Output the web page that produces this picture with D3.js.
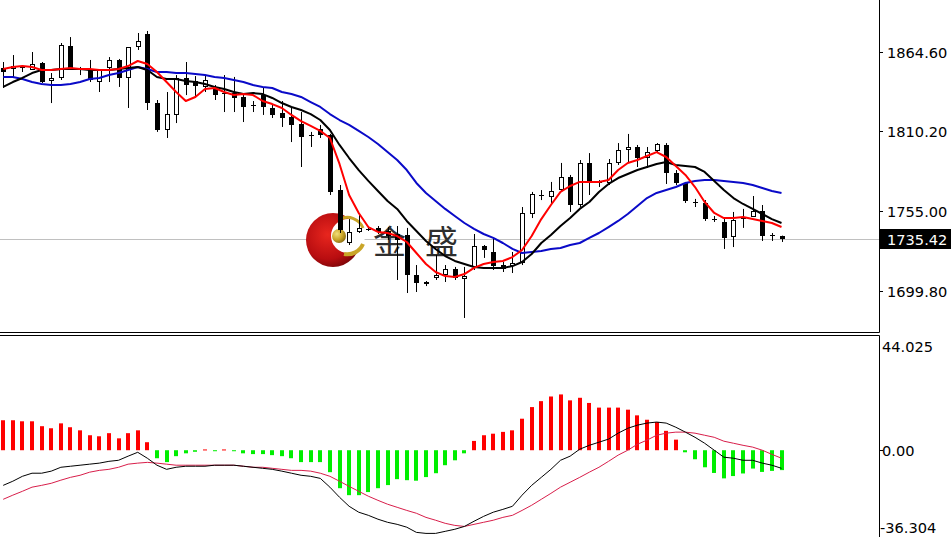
<!DOCTYPE html>
<html><head><meta charset="utf-8">
<script src="https://cdn.jsdelivr.net/npm/d3@7"></script>
<style>html,body{margin:0;padding:0;background:#fff;overflow:hidden}svg{display:block}</style>
</head><body>
<svg id="c" width="951" height="537"></svg>
<script>
// ---------- data ----------
const opens = [1853.6,1852.9,1853.6,1852.2,1857.0,1844.6,1846.7,1868.7,1852.9,1852.2,
 1843.9,1853.6,1859.1,1846.7,1868.0,1877.0,1829.4,1810.8,1821.2,1846.7,
 1844.6,1840.5,1839.8,1836.3,1836.3,1833.6,1828.1,1834.9,1826.0,1822.5,
 1819.8,1814.9,1807.4,1811.5,1807.4,1769.4,1732.9,1740.5,1742.6,1743.3,
 1741.2,1739.1,1738.4,1710.8,1704.6,1708.8,1710.8,1715.0,1708.1,1716.4,
 1730.8,1726.7,1717.7,1717.0,1719.1,1752.9,1765.3,1764.6,1769.4,1778.4,
 1759.1,1788.1,1775.0,1774.3,1788.1,1797.0,1799.1,1791.5,1796.3,1800.5,
 1781.2,1774.3,1761.2,1760.5,1749.4,1747.4,1737.0,1749.4,1750.8,1755.0,
 1738.4,1737.7];
const highs = [1857.7,1862.5,1855.6,1864.6,1857.7,1850.1,1870.8,1874.9,1854.3,1859.1,
 1852.2,1861.1,1859.8,1868.0,1877.7,1879.1,1831.5,1837.0,1848.7,1857.7,
 1848.0,1848.7,1841.8,1848.7,1847.4,1836.3,1830.8,1839.8,1828.1,1830.8,
 1826.0,1823.2,1809.5,1814.3,1808.1,1772.9,1749.4,1753.6,1743.3,1744.6,
 1743.9,1744.6,1743.3,1717.7,1706.7,1724.6,1717.7,1716.4,1716.4,1739.1,
 1731.5,1736.4,1719.8,1726.7,1757.7,1768.1,1769.4,1775.0,1788.1,1779.8,
 1790.1,1794.9,1776.3,1790.8,1801.8,1808.1,1800.5,1799.1,1801.8,1801.8,
 1783.2,1775.0,1763.3,1762.5,1751.5,1749.4,1754.3,1756.4,1765.3,1759.1,
 1739.8,1738.0];
const lows = [1839.8,1846.7,1850.8,1852.2,1843.2,1829.4,1845.3,1852.2,1848.7,1843.9,
 1837.0,1843.9,1840.5,1826.0,1866.0,1824.6,1809.5,1805.3,1815.6,1834.9,
 1834.3,1837.0,1831.5,1823.2,1823.2,1816.3,1823.2,1821.2,1819.1,1812.9,
 1802.5,1785.3,1799.1,1805.3,1766.0,1739.8,1731.5,1739.8,1741.2,1739.1,
 1735.0,1707.4,1698.4,1699.1,1703.2,1707.4,1706.0,1707.4,1681.2,1714.3,
 1722.6,1714.3,1712.9,1712.2,1717.7,1750.1,1762.5,1759.1,1768.1,1754.3,
 1757.7,1766.0,1771.5,1772.9,1786.7,1788.7,1785.3,1784.6,1795.6,1773.6,
 1772.9,1760.5,1757.7,1748.1,1747.4,1728.8,1730.1,1743.3,1750.8,1734.3,
 1734.3,1733.6];
const closes = [1850.8,1854.9,1854.3,1856.3,1843.9,1846.7,1869.4,1853.6,1852.2,1845.3,
 1852.2,1859.1,1846.7,1868.0,1872.2,1829.4,1810.8,1821.8,1846.7,1841.8,
 1841.2,1845.3,1834.9,1835.6,1832.9,1826.7,1827.4,1826.7,1821.2,1819.1,
 1814.3,1806.0,1807.0,1807.4,1768.1,1741.9,1740.5,1743.3,1741.9,1740.5,
 1737.7,1735.0,1710.8,1705.3,1706.0,1710.8,1715.0,1708.8,1710.1,1730.8,
 1728.1,1717.0,1715.0,1719.1,1753.6,1766.7,1766.0,1768.8,1778.4,1759.1,
 1788.1,1775.0,1774.3,1788.1,1797.0,1799.1,1791.5,1795.6,1801.2,1781.2,
 1774.3,1761.9,1760.9,1749.4,1749.0,1736.4,1748.8,1750.8,1755.0,1737.7,
 1737.7,1735.42];

const maFast = [1852.9,1854.3,1854.9,1854.3,1852.2,1852.2,1852.9,1853.6,1852.9,1852.9,
 1852.2,1852.2,1852.9,1854.9,1858.4,1856.3,1850.8,1843.9,1837.0,1830.8,
 1833.6,1839.1,1839.8,1837.0,1834.9,1835.6,1834.9,1830.8,1828.7,1826.0,
 1821.2,1817.0,1813.6,1810.2,1805.3,1787.4,1766.0,1753.6,1743.9,1740.5,
 1739.8,1737.7,1733.6,1726.0,1718.4,1712.9,1710.1,1709.5,1711.5,1715.7,
 1718.4,1719.8,1720.5,1723.2,1728.1,1737.7,1749.4,1759.1,1768.1,1772.2,
 1775.0,1775.0,1775.0,1776.3,1783.2,1788.1,1790.1,1792.9,1795.6,1792.2,
 1786.0,1779.8,1771.5,1761.2,1753.6,1750.1,1750.1,1750.8,1749.4,1748.1,
 1746.7,1743.9];
const maMid = [1840.5,1843.9,1846.7,1850.1,1852.2,1852.2,1852.9,1852.9,1852.9,1852.2,
 1852.2,1852.2,1852.9,1853.6,1854.3,1852.2,1847.4,1846.0,1846.0,1844.6,
 1843.9,1842.5,1840.5,1839.1,1837.0,1835.6,1836.3,1835.6,1832.9,1829.4,
 1826.7,1824.6,1821.8,1817.7,1810.8,1800.5,1791.5,1783.2,1775.7,1768.8,
 1761.9,1756.4,1748.1,1741.2,1734.3,1728.8,1723.9,1720.5,1718.4,1716.4,
 1715.7,1715.7,1715.7,1717.0,1719.8,1725.3,1732.9,1738.4,1744.6,1750.1,
 1756.4,1761.2,1768.1,1773.6,1777.7,1780.5,1783.2,1785.3,1787.4,1788.7,
 1786.7,1786.0,1785.3,1781.9,1775.7,1769.4,1763.9,1759.8,1756.4,1752.9,
 1749.4,1746.7];
const maSlow = [1847.4,1847.4,1846.0,1843.9,1842.5,1841.8,1841.8,1842.5,1843.9,1846.0,
 1846.7,1848.7,1850.1,1852.2,1854.3,1852.9,1850.8,1850.8,1850.1,1850.1,
 1849.4,1848.7,1847.4,1846.7,1845.3,1843.9,1841.8,1840.5,1839.8,1837.0,
 1835.6,1833.6,1830.1,1826.7,1821.8,1817.7,1814.3,1810.2,1806.0,1801.2,
 1795.6,1790.1,1783.2,1774.3,1767.4,1761.9,1756.4,1751.5,1746.7,1742.6,
 1739.1,1736.4,1732.9,1728.8,1726.0,1726.7,1727.4,1728.8,1729.5,1731.5,
 1732.9,1736.4,1739.8,1743.9,1748.1,1752.9,1758.4,1763.9,1767.4,1769.4,
 1771.5,1774.3,1775.7,1776.3,1776.3,1775.7,1775.0,1774.3,1772.9,1770.8,
 1768.8,1767.4];

const macdHist = [11.6,11.6,11.2,11.2,9.3,8.5,10.4,8.9,7.7,5.8,
 5.4,6.6,4.6,6.6,7.7,3.1,-3.1,-4.6,-2.3,-1.2,
 -0.6,0.3,-0.2,0.3,-0.3,-1.2,-1.5,-1.5,-1.9,-2.3,
 -3.1,-4.6,-4.6,-4.6,-8.5,-14.7,-17.4,-17.4,-16.2,-14.7,
 -13.5,-11.2,-11.6,-11.8,-10.4,-8.9,-5.8,-3.9,-1.2,3.6,
 5.8,6.4,7.1,7.7,12.2,16.7,19.0,20.8,21.6,19.3,
 20.3,18.3,16.5,16.5,16.5,15.7,13.5,11.8,10.9,7.5,
 4.1,-0.8,-3.5,-6.6,-8.8,-10.9,-10.0,-9.0,-7.1,-8.4,
 -8.0,-7.7];
const macdLine = [-13.6,-12.0,-10.1,-8.9,-8.9,-8.1,-6.6,-6.2,-5.8,-5.4,
 -5.0,-4.3,-3.9,-2.3,-0.8,-3.1,-5.8,-7.4,-6.6,-6.2,
 -6.2,-6.2,-5.8,-5.8,-5.8,-6.2,-6.6,-7.0,-7.4,-8.1,
 -8.9,-9.7,-10.1,-10.9,-14.3,-18.2,-21.7,-24.0,-25.2,-26.7,
 -27.9,-28.7,-29.8,-31.8,-32.2,-32.2,-31.4,-30.6,-29.5,-27.5,
 -25.6,-24.0,-22.9,-21.7,-17.4,-13.6,-10.5,-7.4,-3.9,-2.3,
 0.4,1.9,3.1,4.3,6.6,8.5,9.7,10.5,10.9,10.5,
 8.9,7.0,5.0,2.7,0.0,-2.7,-3.1,-3.9,-3.9,-5.0,
 -5.8,-7.0];
const signalLine = [-19.0,-17.4,-15.9,-14.3,-13.6,-12.8,-11.6,-10.5,-9.7,-8.5,
 -7.8,-7.4,-6.6,-5.4,-5.0,-4.7,-5.0,-5.4,-5.8,-5.8,
 -5.8,-5.8,-5.8,-5.8,-5.8,-6.2,-6.6,-6.6,-7.0,-7.4,
 -7.8,-7.8,-8.1,-8.9,-10.1,-12.0,-14.0,-15.9,-17.8,-19.4,
 -20.9,-22.1,-23.3,-24.4,-26.0,-27.1,-28.3,-29.1,-29.5,-28.7,
 -27.9,-27.1,-26.0,-25.2,-23.3,-21.3,-19.0,-16.7,-14.3,-12.4,
 -10.5,-8.5,-6.6,-4.3,-1.9,0.0,2.3,3.9,5.8,6.6,
 7.0,7.0,6.6,5.8,5.0,3.5,2.7,1.9,1.2,0.0,
 -1.6,-3.1];

const priceTicks = [1864.60, 1810.20, 1755.00, 1699.80];
const lastPrice = 1735.42;
const macdMax = 44.025, macdMin = -36.304, macdZero = 0;
const watermark = ["金", "盛"];

// ---------- layout ----------
const svg = d3.select("#c");
const axisX = 879;
const mainBottom = 332, subTop = 336;
const n = closes.length;
const x = d3.scaleLinear().domain([0, n - 1]).range([3.2, 781.5]);
const y = d3.scaleLinear().domain([1699.8, 1864.6]).range([291, 52]);
const ym = d3.scaleLinear().domain([macdMin, macdMax]).range([544, 336.5]);
const px = i => Math.round(x(i)) + 0.5;

const defs = svg.append("defs");
defs.append("clipPath").attr("id","clipMain").append("rect").attr("x",0).attr("y",0).attr("width",axisX).attr("height",mainBottom);
defs.append("clipPath").attr("id","clipSub").append("rect").attr("x",0).attr("y",subTop).attr("width",axisX).attr("height",537-subTop);
const rg = defs.append("radialGradient").attr("id","redBall").attr("cx","40%").attr("cy","40%").attr("r","65%");
rg.append("stop").attr("offset","0%").attr("stop-color","#e8261e");
rg.append("stop").attr("offset","70%").attr("stop-color","#b80d10");
rg.append("stop").attr("offset","100%").attr("stop-color","#7a0508");
const gg = defs.append("radialGradient").attr("id","goldBall").attr("cx","35%").attr("cy","35%").attr("r","70%");
gg.append("stop").attr("offset","0%").attr("stop-color","#f3e07a");
gg.append("stop").attr("offset","60%").attr("stop-color","#c9a528");
gg.append("stop").attr("offset","100%").attr("stop-color","#8c6e12");

svg.append("rect").attr("width",951).attr("height",537).attr("fill","#fff");

// ---------- main panel ----------
const main = svg.append("g").attr("clip-path","url(#clipMain)");

// current price line
main.append("line").attr("x1",0).attr("x2",axisX).attr("y1",Math.round(y(lastPrice))+0.5).attr("y2",Math.round(y(lastPrice))+0.5)
  .attr("stroke","#c0c0c0").attr("stroke-width",1);

// watermark logo
const logo = main.append("g");
logo.append("circle").attr("cx",333).attr("cy",240).attr("r",27).attr("fill","url(#redBall)");
logo.append("circle").attr("cx",348).attr("cy",236).attr("r",17).attr("fill","#fff");
logo.append("path").attr("d","M340,219 A17,17 0 0 1 363,228").attr("fill","none").attr("stroke","#c9a528").attr("stroke-width",3);
logo.append("path").attr("d","M363,244 A17,17 0 0 1 344,254").attr("fill","none").attr("stroke","#c9a528").attr("stroke-width",4);
logo.append("circle").attr("cx",339).attr("cy",236).attr("r",7).attr("fill","url(#goldBall)");
logo.selectAll("text").data(watermark).enter().append("text")
  .attr("x",(d,i)=> i===0 ? 373 : 425).attr("y",254)
  .attr("font-family","'Noto Sans CJK SC','Noto Sans CJK JP',sans-serif").attr("font-size",33)
  .attr("fill","#2e2e2e").text(d=>d);

// candles
const cg = main.append("g");
const idx = d3.range(n);
cg.selectAll("line.wick").data(idx).enter().append("line")
  .attr("x1",i=>px(i)).attr("x2",i=>px(i))
  .attr("y1",i=>y(highs[i])).attr("y2",i=>y(lows[i]))
  .attr("stroke","#000").attr("stroke-width",1);
idx.forEach(i=>{
  const yo = y(opens[i]), yc = y(closes[i]);
  const top = Math.round(Math.min(yo,yc)), bot = Math.round(Math.max(yo,yc));
  const cx = px(i);
  if (bot - top < 2) {
    cg.append("line").attr("x1",cx-2.5).attr("x2",cx+2.5).attr("y1",top+0.5).attr("y2",top+0.5).attr("stroke","#000");
  } else if (closes[i] >= opens[i]) {
    cg.append("rect").attr("x",cx-2).attr("y",top+0.5).attr("width",4).attr("height",bot-top-1)
      .attr("fill","#fff").attr("stroke","#000").attr("stroke-width",1);
  } else {
    cg.append("rect").attr("x",cx-2.5).attr("y",top).attr("width",5).attr("height",bot-top).attr("fill","#000");
  }
});

// moving averages
const lineP = d3.line().x((d,i)=>x(i)).y(d=>y(d));
[[maSlow,"#0a0ac8"],[maMid,"#000000"],[maFast,"#ff0000"]].forEach(([arr,col])=>{
  main.append("path").attr("d",lineP(arr)).attr("fill","none").attr("stroke",col)
    .attr("stroke-width",2).attr("stroke-linejoin","round");
});

// ---------- MACD panel ----------
const sub = svg.append("g").attr("clip-path","url(#clipSub)");
const z = ym(macdZero);
sub.selectAll("rect.h").data(idx).enter().append("rect")
  .attr("x",i=>Math.round(x(i))-2).attr("width",4)
  .attr("y",i=>Math.min(z, ym(macdHist[i]))).attr("height",i=>Math.max(1, Math.abs(ym(macdHist[i]) - z)))
  .attr("fill",i=>macdHist[i] >= 0 ? "#ff0000" : "#00ee00");
const lineM = d3.line().x((d,i)=>x(i)).y(d=>ym(d));
sub.append("path").attr("d",lineM(signalLine)).attr("fill","none").attr("stroke","#d81e4a").attr("stroke-width",1);
sub.append("path").attr("d",lineM(macdLine)).attr("fill","none").attr("stroke","#000").attr("stroke-width",1);

// ---------- frames & axes ----------
const frame = svg.append("g").attr("stroke","#000").attr("stroke-width",1);
frame.append("line").attr("x1",0).attr("x2",axisX+0.5).attr("y1",mainBottom+0.5).attr("y2",mainBottom+0.5);
frame.append("line").attr("x1",0).attr("x2",axisX+0.5).attr("y1",subTop-0.5).attr("y2",subTop-0.5);
frame.append("line").attr("x1",axisX+0.5).attr("x2",axisX+0.5).attr("y1",0).attr("y2",mainBottom+0.5);
frame.append("line").attr("x1",axisX+0.5).attr("x2",axisX+0.5).attr("y1",subTop-0.5).attr("y2",537);

const font = "'DejaVu Sans',Verdana,sans-serif";
const fs = 14.6;
const ax = svg.append("g");
priceTicks.forEach(v=>{
  const yy = Math.round(y(v))+0.5;
  ax.append("line").attr("x1",axisX+1).attr("x2",axisX+4).attr("y1",yy).attr("y2",yy).attr("stroke","#000");
  ax.append("text").attr("x",887).attr("y",yy).attr("dy","0.36em").attr("font-family",font).attr("font-size",fs)
    .attr("fill","#000").text(v.toFixed(2));
});
// last price tag
const ly = y(lastPrice);
ax.append("rect").attr("x",axisX+1).attr("y",Math.round(ly)-10).attr("width",951-axisX-1).attr("height",20).attr("fill","#000");
ax.append("text").attr("x",887).attr("y",ly).attr("dy","0.36em").attr("font-family",font).attr("font-size",fs)
  .attr("fill","#fff").text(lastPrice.toFixed(2));
// macd labels
ax.append("text").attr("x",882).attr("y",ym(macdMax)+15).attr("font-family",font).attr("font-size",fs).attr("fill","#000").text(macdMax.toFixed(3));
const zy = Math.round(ym(0))+0.5;
ax.append("line").attr("x1",axisX+1).attr("x2",axisX+4).attr("y1",zy).attr("y2",zy).attr("stroke","#000");
ax.append("text").attr("x",882).attr("y",zy).attr("dy","0.36em").attr("font-family",font).attr("font-size",fs).attr("fill","#000").text(macdZero.toFixed(2));
ax.append("text").attr("x",880).attr("y",ym(macdMin)-11).attr("font-family",font).attr("font-size",fs).attr("fill","#000").text(macdMin.toFixed(3));
</script>
</body></html>
